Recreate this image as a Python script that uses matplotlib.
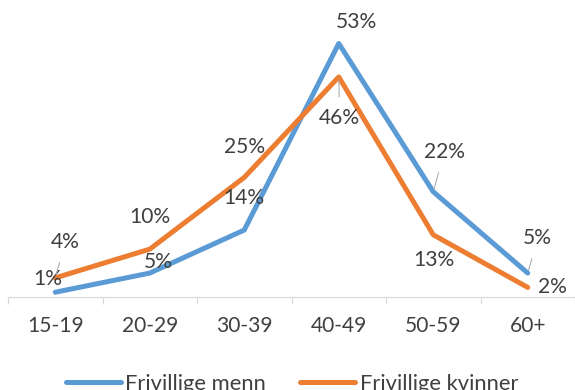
import matplotlib
matplotlib.use('Agg')
import matplotlib.pyplot as plt
import numpy as np

plt.rcParams['font.family'] = ['Lato', 'DejaVu Sans']

# Aldersgrupper og andel frivillige (%)
groups = ['15-19', '20-29', '30-39', '40-49', '50-59', '60+']
menn = [1, 5, 14, 53, 22, 5]
kvinner = [4, 10, 25, 46, 13, 2]

# label offsets in points (dx, dy) and whether a leader line is drawn
menn_offsets = [(-7, 13, False), (9, 11, False), (0, 32, False),
                (18, 21, False), (11, 40, True), (10, 35, True)]
kvinner_offsets = [(10, 36, True), (0, 32, False), (0, 30, False),
                   (1, -41, True), (1, -25, False), (25, 0, False)]

blue = '#5B9BD5'
orange = '#ED7D31'
txt = '#404040'
grid = '#D9D9D9'

fig = plt.figure(figsize=(575 / 72, 390 / 72), dpi=72)
ax = fig.add_axes([8 / 575, 1 - 297 / 390, 567 / 575, 287 / 390])

x = np.arange(len(groups))
l1, = ax.plot(x, menn, color=blue, lw=5, solid_capstyle='round',
              solid_joinstyle='round', label='Frivillige menn')
l2, = ax.plot(x, kvinner, color=orange, lw=5, solid_capstyle='round',
              solid_joinstyle='round', label='Frivillige kvinner')

def label_series(vals, offsets):
    for xi, v, (dx, dy, leader) in zip(x, vals, offsets):
        props = None
        if leader:
            props = dict(arrowstyle='-', color='#A6A6A6', lw=1,
                         shrinkA=9, shrinkB=3)
        ax.annotate(f'{v}%', (xi, v), xytext=(dx, dy), textcoords='offset points',
                    ha='center', va='center', fontsize=21, color=txt,
                    arrowprops=props)

label_series(menn, menn_offsets)
label_series(kvinner, kvinner_offsets)

ax.set_xlim(-0.5, len(groups) - 0.5)
ax.set_ylim(0, 60)
ax.set_yticks([])
for s in ['top', 'right', 'left']:
    ax.spines[s].set_visible(False)
ax.spines['bottom'].set_color(grid)
ax.spines['bottom'].set_linewidth(1.2)

ax.set_xticks(x)
ax.set_xticklabels(groups)
ax.set_xticks(np.arange(-0.5, len(groups), 1), minor=True)
ax.tick_params(axis='x', which='major', length=0, pad=19, labelsize=21, labelcolor=txt)
ax.tick_params(axis='x', which='minor', length=7, width=1.2, color=grid)

fig.legend(handles=[l1, l2], loc='center left', bbox_to_anchor=(66 / 575, 1 - 384 / 390),
           ncol=2, frameon=False, fontsize=22, labelcolor=txt, handlelength=2.5,
           handletextpad=0.2, columnspacing=1.55, borderpad=0, borderaxespad=0)

fig.savefig('out.png', dpi=72)
